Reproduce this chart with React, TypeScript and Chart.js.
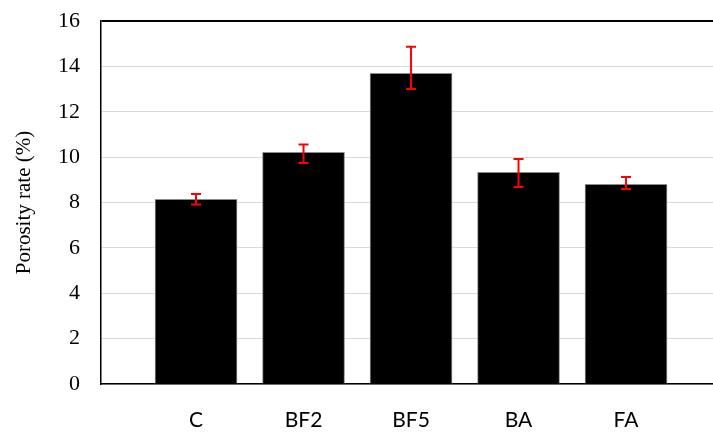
import React, { useEffect, useRef } from "react";
import { Chart, registerables } from "chart.js";

Chart.register(...registerables);

const categories = ["C", "BF2", "BF5", "BA", "FA"];
const porosity = [8.14, 10.21, 13.69, 9.33, 8.8];
const errPlus = [0.24, 0.35, 1.18, 0.59, 0.32];
const errMinus = [0.23, 0.47, 0.69, 0.65, 0.21];
const yTicks = [0, 2, 4, 6, 8, 10, 12, 14, 16];

const errorBarPlugin = {
  id: "errorBars",
  afterDatasetsDraw(chart: any) {
    const meta = chart.getDatasetMeta(0);
    const yScale = chart.scales.y;
    const ctx = chart.ctx;
    ctx.save();
    ctx.strokeStyle = "#ff0000";
    ctx.lineWidth = 2;
    meta.data.forEach((el: any, i: number) => {
      const x = el.x;
      const top = yScale.getPixelForValue(porosity[i] + errPlus[i]);
      const bot = yScale.getPixelForValue(porosity[i] - errMinus[i]);
      ctx.beginPath();
      ctx.moveTo(x, top);
      ctx.lineTo(x, bot);
      ctx.moveTo(x - 5, top);
      ctx.lineTo(x + 5, top);
      ctx.moveTo(x - 5, bot);
      ctx.lineTo(x + 5, bot);
      ctx.stroke();
    });
    ctx.restore();
  },
};

export default function App() {
  const ref = useRef<HTMLCanvasElement>(null);
  useEffect(() => {
    if (!ref.current) return;
    const chart = new Chart(ref.current, {
      type: "bar",
      data: {
        datasets: [
          {
            data: porosity.map((v, i) => ({ x: i, y: v })),
            backgroundColor: "#000000",
            borderColor: "#8c8c8c",
            borderWidth: 1,
            barThickness: 82,
          },
        ],
      },
      options: {
        animation: false,
        responsive: true,
        maintainAspectRatio: false,
        layout: { padding: { top: 21, right: 0, left: 0, bottom: 0 } },
        plugins: { legend: { display: false }, tooltip: { enabled: false } },
        scales: {
          x: {
            type: "linear",
            offset: false,
            min: -0.884,
            max: 4.809,
            afterBuildTicks: (scale: any) => {
              scale.ticks = categories.map((_, i) => ({ value: i }));
            },
            afterFit: (scale: any) => {
              scale.height = 49;
              scale.paddingTop = 0;
              scale.paddingBottom = 0;
            },
            grid: { display: false, drawTicks: false, offset: false },
            border: { display: true, color: "#000000", width: 1.5 },
            ticks: {
              autoSkip: false,
              padding: 24,
              color: "#000000",
              font: { family: "Lato, 'Open Sans', sans-serif", size: 21 },
              callback: (v: any) => categories[v] ?? "",
            },
          },
          y: {
            min: 0,
            max: 16,
            afterBuildTicks: (scale: any) => {
              scale.ticks = yTicks.map((v) => ({ value: v }));
            },
            afterFit: (scale: any) => {
              scale.width = 101;
              scale.paddingTop = 0;
              scale.paddingBottom = 0;
            },
            grid: {
              drawTicks: false,
              color: (c: any) => (c.tick && c.tick.value === 16 ? "#000000" : "#d9d9d9"),
              lineWidth: (c: any) => (c.tick && c.tick.value === 16 ? 2 : 1),
            },
            border: { display: true, color: "#000000", width: 1.5 },
            ticks: {
              padding: 21,
              color: "#000000",
              font: { family: "'Liberation Serif', 'Times New Roman', serif", size: 22 },
            },
            title: {
              display: true,
              text: "Porosity rate (%)",
              color: "#000000",
              padding: { top: 12, bottom: 0 },
              font: { family: "'Liberation Serif', 'Times New Roman', serif", size: 21 },
            },
          },
        },
      },
      plugins: [errorBarPlugin],
    });
    return () => chart.destroy();
  }, []);
  return (
    <div style={{ position: "absolute", left: 0, top: 0, width: 713, height: 433, background: "#fff" }}>
      <canvas ref={ref} />
    </div>
  );
}
